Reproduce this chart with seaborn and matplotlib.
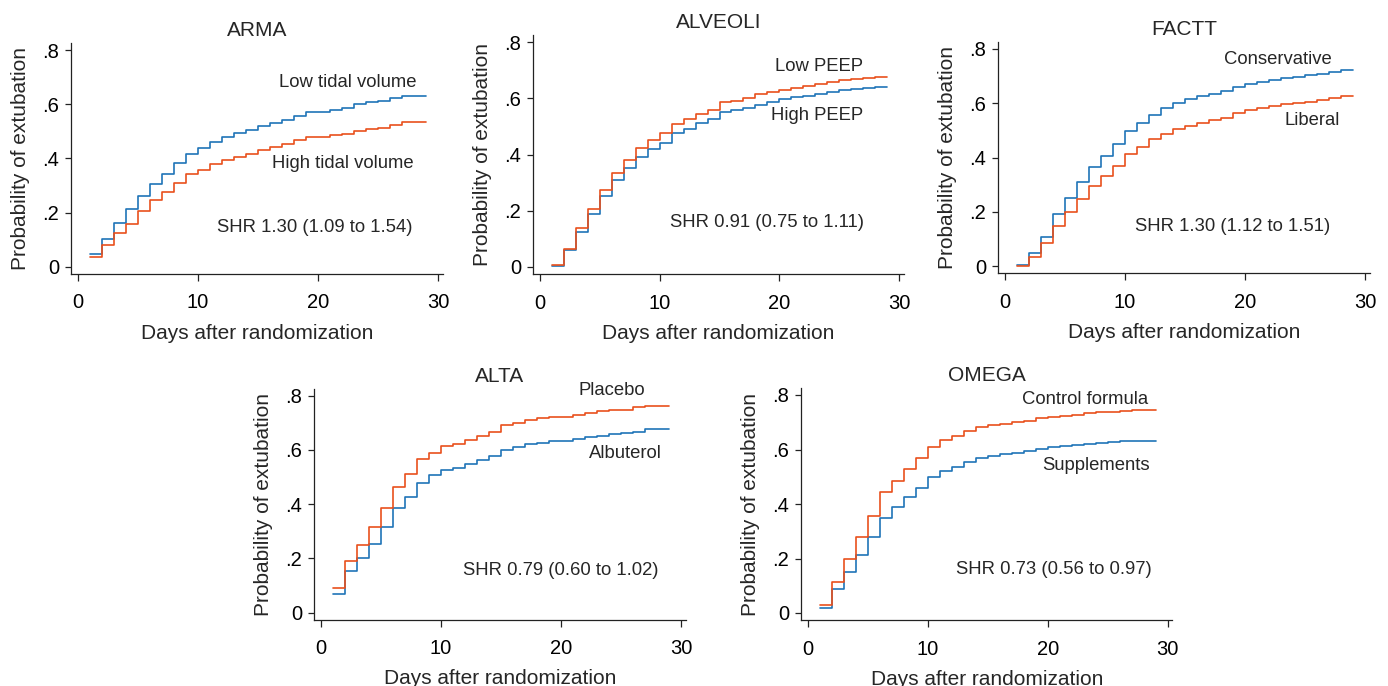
"""Cumulative incidence of extubation in five ARDS trials (Stata-style panels)."""

import matplotlib
matplotlib.use("Agg")
import matplotlib.pyplot as plt
import numpy as np
import pandas as pd
import seaborn as sns

# ---- data (one value per day 1..28) ----
days = list(range(1, 29))

trials = ["ARMA", "ALVEOLI", "FACTT", "ALTA", "OMEGA"]

arma_low_tidal = [0.047, 0.102, 0.161, 0.213, 0.260, 0.306, 0.343, 0.384, 0.417, 0.439,
                  0.459, 0.480, 0.494, 0.505, 0.519, 0.532, 0.542, 0.558, 0.572, 0.572,
                  0.578, 0.588, 0.600, 0.607, 0.613, 0.623, 0.630, 0.630]
arma_high_tidal = [0.037, 0.080, 0.126, 0.160, 0.206, 0.246, 0.277, 0.310, 0.342, 0.359,
                   0.378, 0.394, 0.406, 0.416, 0.430, 0.443, 0.452, 0.470, 0.480, 0.480,
                   0.485, 0.492, 0.500, 0.508, 0.514, 0.524, 0.535, 0.535]

alveoli_low_peep = [0.008, 0.065, 0.139, 0.207, 0.274, 0.336, 0.382, 0.423, 0.451, 0.476,
                    0.509, 0.526, 0.546, 0.559, 0.586, 0.590, 0.603, 0.615, 0.624, 0.631,
                    0.639, 0.646, 0.652, 0.660, 0.665, 0.669, 0.673, 0.678]
alveoli_high_peep = [0.005, 0.059, 0.126, 0.189, 0.253, 0.309, 0.354, 0.390, 0.419, 0.443,
                     0.477, 0.493, 0.512, 0.526, 0.552, 0.558, 0.567, 0.578, 0.589, 0.598,
                     0.604, 0.610, 0.617, 0.623, 0.630, 0.635, 0.639, 0.642]

factt_conservative = [0.004, 0.048, 0.107, 0.191, 0.250, 0.309, 0.364, 0.407, 0.452, 0.498,
                      0.529, 0.556, 0.582, 0.600, 0.615, 0.628, 0.636, 0.644, 0.660, 0.671,
                      0.679, 0.686, 0.693, 0.698, 0.703, 0.709, 0.714, 0.721]
factt_liberal = [0.002, 0.036, 0.085, 0.148, 0.200, 0.247, 0.294, 0.334, 0.371, 0.412,
                 0.438, 0.467, 0.488, 0.504, 0.515, 0.529, 0.540, 0.547, 0.563, 0.574,
                 0.582, 0.589, 0.598, 0.603, 0.606, 0.611, 0.618, 0.626]

alta_placebo = [0.090, 0.192, 0.249, 0.315, 0.385, 0.462, 0.511, 0.565, 0.590, 0.614,
                0.622, 0.638, 0.652, 0.667, 0.691, 0.700, 0.710, 0.717, 0.722, 0.722,
                0.730, 0.737, 0.742, 0.748, 0.748, 0.759, 0.763, 0.763]
alta_albuterol = [0.070, 0.154, 0.203, 0.253, 0.316, 0.385, 0.426, 0.479, 0.508, 0.527,
                  0.535, 0.547, 0.562, 0.579, 0.601, 0.612, 0.621, 0.627, 0.634, 0.634,
                  0.641, 0.649, 0.651, 0.658, 0.661, 0.667, 0.677, 0.677]

omega_control = [0.029, 0.115, 0.199, 0.278, 0.356, 0.445, 0.486, 0.530, 0.569, 0.610,
                 0.634, 0.651, 0.668, 0.681, 0.690, 0.694, 0.700, 0.706, 0.716, 0.720,
                 0.723, 0.727, 0.733, 0.739, 0.739, 0.742, 0.745, 0.745]
omega_supplements = [0.020, 0.088, 0.149, 0.213, 0.278, 0.350, 0.389, 0.426, 0.460, 0.500,
                     0.522, 0.537, 0.555, 0.569, 0.577, 0.582, 0.586, 0.596, 0.602, 0.609,
                     0.612, 0.615, 0.619, 0.623, 0.626, 0.630, 0.630, 0.632]

# (blue arm, orange arm) per trial
blue_arms = {
    "ARMA": ("Low tidal volume", arma_low_tidal),
    "ALVEOLI": ("High PEEP", alveoli_high_peep),
    "FACTT": ("Conservative", factt_conservative),
    "ALTA": ("Albuterol", alta_albuterol),
    "OMEGA": ("Supplements", omega_supplements),
}
orange_arms = {
    "ARMA": ("High tidal volume", arma_high_tidal),
    "ALVEOLI": ("Low PEEP", alveoli_low_peep),
    "FACTT": ("Liberal", factt_liberal),
    "ALTA": ("Placebo", alta_placebo),
    "OMEGA": ("Control formula", omega_control),
}
shr_text = {
    "ARMA": "SHR 1.30 (1.09 to 1.54)",
    "ALVEOLI": "SHR 0.91 (0.75 to 1.11)",
    "FACTT": "SHR 1.30 (1.12 to 1.51)",
    "ALTA": "SHR 0.79 (0.60 to 1.02)",
    "OMEGA": "SHR 0.73 (0.56 to 0.97)",
}

# ---- layout / style ----
BLUE = "#1F74B8"
ORANGE = "#E9501C"
AXIS_COLOR = "#222222"
FS_LABEL = 15      # titles and axis labels
FS_TICK = 14.5
FS_NOTE = 13.3     # in-panel annotations
W, H = 1388, 686
XLIM = (-0.6, 30.4)
YLIM = (-0.026, 0.826)

# pixel anchors of (x=0, x=30, y=0, y=.8) for each panel
anchors = {
    "ARMA": (78, 438, 267, 50),
    "ALVEOLI": (540, 899, 267, 42.3),
    "FACTT": (1005, 1365, 266.3, 49),
    "ALTA": (321, 681, 612.7, 395.7),
    "OMEGA": (808.3, 1167.7, 613, 395),
}

# label anchors: (x right edge, y centre) in data units -> blue, orange, SHR
label_pos = {
    "ARMA": [(28.2, 0.682), (28.0, 0.383), (27.9, 0.144)],
    "ALVEOLI": [(27.0, 0.539), (27.0, 0.713), (27.1, 0.158)],
    "FACTT": [(27.2, 0.760), (27.9, 0.536), (27.1, 0.148)],
    "ALTA": [(28.4, 0.588), (27.0, 0.821), (28.1, 0.154)],
    "OMEGA": [(28.5, 0.543), (28.4, 0.782), (28.7, 0.158)],
}

sns.set_style("ticks")
plt.rcParams["font.family"] = ["Liberation Sans", "DejaVu Sans"]


def rect_from_anchors(x0, x30, y0, y8):
    ppd = (x30 - x0) / 30.0
    ppu = (y0 - y8) / 0.8
    left = x0 + XLIM[0] * ppd
    right = x30 + (XLIM[1] - 30) * ppd
    top = y8 - (YLIM[1] - 0.8) * ppu
    bottom = y0 - YLIM[0] * ppu
    return [left / W, 1 - bottom / H, (right - left) / W, (bottom - top) / H]


def long_frame(trial):
    rows = []
    for colour, arms in (("blue", blue_arms), ("orange", orange_arms)):
        name, vals = arms[trial]
        xs = days + [days[-1] + 1]
        ys = list(vals) + [vals[-1]]
        rows.append(pd.DataFrame({"day": xs, "prob": ys, "arm": colour}))
    return pd.concat(rows, ignore_index=True)


fig = plt.figure(figsize=(W / 100, H / 100), dpi=100)

for trial in trials:
    ax = fig.add_axes(rect_from_anchors(*anchors[trial]))
    df = long_frame(trial)
    sns.lineplot(
        data=df, x="day", y="prob", hue="arm",
        palette={"blue": BLUE, "orange": ORANGE},
        hue_order=["blue", "orange"],
        estimator=None, drawstyle="steps-post",
        linewidth=1.2, legend=False, ax=ax,
    )
    ax.set_xlim(*XLIM)
    ax.set_ylim(*YLIM)
    ax.set_xticks([0, 10, 20, 30])
    ax.set_yticks([0, 0.2, 0.4, 0.6, 0.8])
    ax.set_yticklabels(["0", ".2", ".4", ".6", ".8"])
    ax.tick_params(axis="x", length=5, width=0.9, pad=9, colors=AXIS_COLOR,
                   labelcolor="black", labelsize=FS_TICK)
    ax.tick_params(axis="y", length=4.5, width=0.9, pad=4, colors=AXIS_COLOR,
                   labelcolor="black", labelsize=FS_TICK)
    sns.despine(ax=ax)
    for side in ("left", "bottom"):
        ax.spines[side].set_color(AXIS_COLOR)
        ax.spines[side].set_linewidth(0.9)
    ax.set_xlabel("Days after randomization", fontsize=FS_LABEL, labelpad=8)
    ax.set_ylabel("Probability of extubation", fontsize=FS_LABEL, labelpad=9)
    ax.set_title(trial, fontsize=FS_LABEL, pad=5)

    (bx, by), (ox, oy), (sx, sy) = label_pos[trial]
    ax.text(bx, by, blue_arms[trial][0], ha="right", va="center", fontsize=FS_NOTE)
    ax.text(ox, oy, orange_arms[trial][0], ha="right", va="center", fontsize=FS_NOTE)
    ax.text(sx, sy, shr_text[trial], ha="right", va="center", fontsize=FS_NOTE)

fig.savefig("out.png", dpi=100)
